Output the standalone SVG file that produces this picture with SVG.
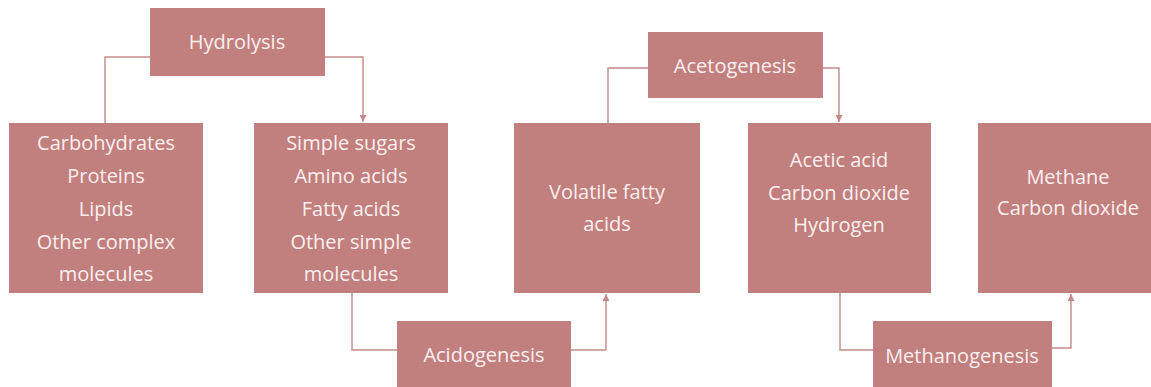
<svg xmlns="http://www.w3.org/2000/svg" width="1151" height="387" viewBox="0 0 1151 387">
<style>
.box{fill:#c17f7e;}
.t{font-family:"Open Sans","Noto Sans",sans-serif;font-size:20px;fill:#fcefee;text-anchor:middle;}
.c{fill:none;stroke:#c48a89;stroke-width:1.4;}
</style>
<defs>
<marker id="ah" viewBox="0 0 10 10" refX="10" refY="5" markerWidth="7" markerHeight="7" markerUnits="userSpaceOnUse" orient="auto">
<path d="M0,0 L10,5 L0,10 z" fill="#c48a89"/>
</marker>
</defs>
<rect width="1151" height="387" fill="#ffffff"/>
<g id="connectors">
<path class="c" d="M150,57 H105 V123"/>
<path class="c" d="M325,57 H363 V122" marker-end="url(#ah)"/>
<path class="c" d="M648,68 H608 V123"/>
<path class="c" d="M823,68 H839 V122" marker-end="url(#ah)"/>
<path class="c" d="M352,293 V350 H397"/>
<path class="c" d="M571,350 H606 V294" marker-end="url(#ah)"/>
<path class="c" d="M840,293 V350 H873"/>
<path class="c" d="M1052,348 H1071 V294" marker-end="url(#ah)"/>
</g>
<g id="hydrolysis">
<rect class="box" x="150" y="8" width="175" height="68"/>
<text class="t" x="237" y="49">Hydrolysis</text>
</g>
<g id="acetogenesis">
<rect class="box" x="648" y="32" width="175" height="66"/>
<text class="t" x="735" y="73">Acetogenesis</text>
</g>
<g id="complex">
<rect class="box" x="9" y="123" width="194" height="170"/>
<text class="t" x="106" y="150">Carbohydrates</text>
<text class="t" x="106" y="183">Proteins</text>
<text class="t" x="106" y="216">Lipids</text>
<text class="t" x="106" y="249">Other complex</text>
<text class="t" x="106" y="281">molecules</text>
</g>
<g id="simple">
<rect class="box" x="254" y="123" width="194" height="170"/>
<text class="t" x="351" y="150">Simple sugars</text>
<text class="t" x="351" y="183">Amino acids</text>
<text class="t" x="351" y="216">Fatty acids</text>
<text class="t" x="351" y="249">Other simple</text>
<text class="t" x="351" y="281">molecules</text>
</g>
<g id="vfa">
<rect class="box" x="514" y="123" width="186" height="170"/>
<text class="t" x="607" y="199">Volatile fatty</text>
<text class="t" x="607" y="231">acids</text>
</g>
<g id="acetic">
<rect class="box" x="748" y="123" width="183" height="170"/>
<text class="t" x="839" y="167">Acetic acid</text>
<text class="t" x="839" y="200">Carbon dioxide</text>
<text class="t" x="839" y="232">Hydrogen</text>
</g>
<g id="methane">
<rect class="box" x="978" y="123" width="180" height="170"/>
<text class="t" x="1068" y="184">Methane</text>
<text class="t" x="1068" y="215">Carbon dioxide</text>
</g>
<g id="acidogenesis">
<rect class="box" x="397" y="321" width="174" height="70"/>
<text class="t" x="484" y="362">Acidogenesis</text>
</g>
<g id="methanogenesis">
<rect class="box" x="873" y="321" width="179" height="70"/>
<text class="t" x="962" y="363">Methanogenesis</text>
</g>
</svg>
